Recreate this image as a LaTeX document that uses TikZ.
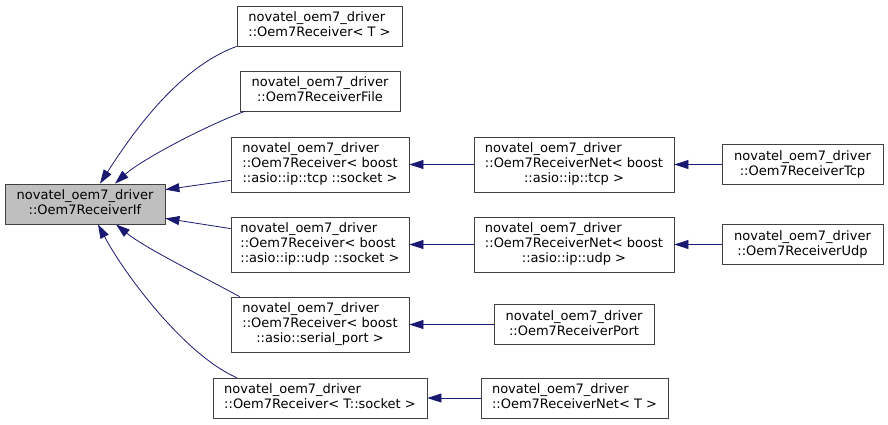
\documentclass[tikz,border=0pt]{standalone}
\usepackage{fontspec}
\setmainfont{DejaVu Sans}
\usetikzlibrary{arrows.meta,calc}
\definecolor{edgecol}{HTML}{191970}
\definecolor{rootfill}{HTML}{BFBFBF}
\newcommand\lbl[1]{\begin{tabular}{@{}l@{}}#1\end{tabular}}
\newcommand\lastc[1]{\multicolumn{1}{@{}c@{}}{#1}}
\begin{document}
\begin{tikzpicture}[x=1pt,y=-1pt,
  font=\fontsize{13}{15}\selectfont,
  box/.style={draw=black!75, line width=0.8pt, fill=white, inner sep=0pt, minimum height=#1},
  box/.default=40pt,
  edge/.style={draw=edgecol, line width=0.8pt, -{Triangle[length=14pt,width=9pt]}}]
\useasboundingbox (0,0) rectangle (888,424);
% nodes
\node[box, fill=rootfill, minimum width=160pt] (root) at (85,204) {\lbl{novatel\_oem7\_driver\\ \lastc{::Oem7ReceiverIf}}};
\node[box, minimum width=165pt] (A) at (319.5,26) {\lbl{novatel\_oem7\_driver\\ \lastc{::Oem7Receiver< T >}}};
\node[box, minimum width=160pt] (B) at (320,91) {\lbl{novatel\_oem7\_driver\\ \lastc{::Oem7ReceiverFile}}};
\node[box=55pt, minimum width=178pt] (C) at (320,164.5) {\lbl{novatel\_oem7\_driver\\ ::Oem7Receiver< boost\\ \lastc{::asio::ip::tcp ::socket >}}};
\node[box=55pt, minimum width=178pt] (D) at (320,244.5) {\lbl{novatel\_oem7\_driver\\ ::Oem7Receiver< boost\\ \lastc{::asio::ip::udp ::socket >}}};
\node[box=55pt, minimum width=178pt] (E) at (320,324.5) {\lbl{novatel\_oem7\_driver\\ ::Oem7Receiver< boost\\ \lastc{::asio::serial\_port >}}};
\node[box, minimum width=214pt] (F) at (320,398) {\lbl{novatel\_oem7\_driver\\ \lastc{::Oem7Receiver< T::socket >}}};
\node[box=55pt, minimum width=200pt] (G) at (574,164.5) {\lbl{novatel\_oem7\_driver\\ ::Oem7ReceiverNet< boost\\ \lastc{::asio::ip::tcp >}}};
\node[box, minimum width=161pt] (H) at (802.5,164.5) {\lbl{novatel\_oem7\_driver\\ \lastc{::Oem7ReceiverTcp}}};
\node[box=55pt, minimum width=200pt] (I) at (574,244.5) {\lbl{novatel\_oem7\_driver\\ ::Oem7ReceiverNet< boost\\ \lastc{::asio::ip::udp >}}};
\node[box, minimum width=161pt] (J) at (802.5,244.5) {\lbl{novatel\_oem7\_driver\\ \lastc{::Oem7ReceiverUdp}}};
\node[box, minimum width=160pt] (K) at (574,324.5) {\lbl{novatel\_oem7\_driver\\ \lastc{::Oem7ReceiverPort}}};
\node[box, minimum width=187pt] (L) at (574.5,398) {\lbl{novatel\_oem7\_driver\\ \lastc{::Oem7ReceiverNet< T >}}};
% edges
\draw[edge] (A.south west) .. controls (177,68) and (130,137) .. ($(root.north)+(15,0)$);
\draw[edge] ($(B.south west)+(5,0)$) .. controls (205,126) and (141,160) .. ($(root.north)+(30,0)$);
\draw[edge] ($(C.south west)+(0,-12)$) -- ($(root.north east)+(0,6)$);
\draw[edge] ($(D.north west)+(0,12)$) -- ($(root.south east)+(0,-6)$);
\draw[edge] ($(E.north west)+(9,0)$) .. controls (200,275) and (145,248) .. ($(root.south)+(31,0)$);
\draw[edge] ($(F.north west)+(24,0)$) .. controls (185,355) and (125,275) .. ($(root.south)+(13,0)$);
\draw[edge] (G.west) -- (C.east);
\draw[edge] (I.west) -- (D.east);
\draw[edge] (K.west) -- (E.east);
\draw[edge] (L.west) -- (F.east);
\draw[edge] (H.west) -- (G.east);
\draw[edge] (J.west) -- (I.east);
\end{tikzpicture}
\end{document}
